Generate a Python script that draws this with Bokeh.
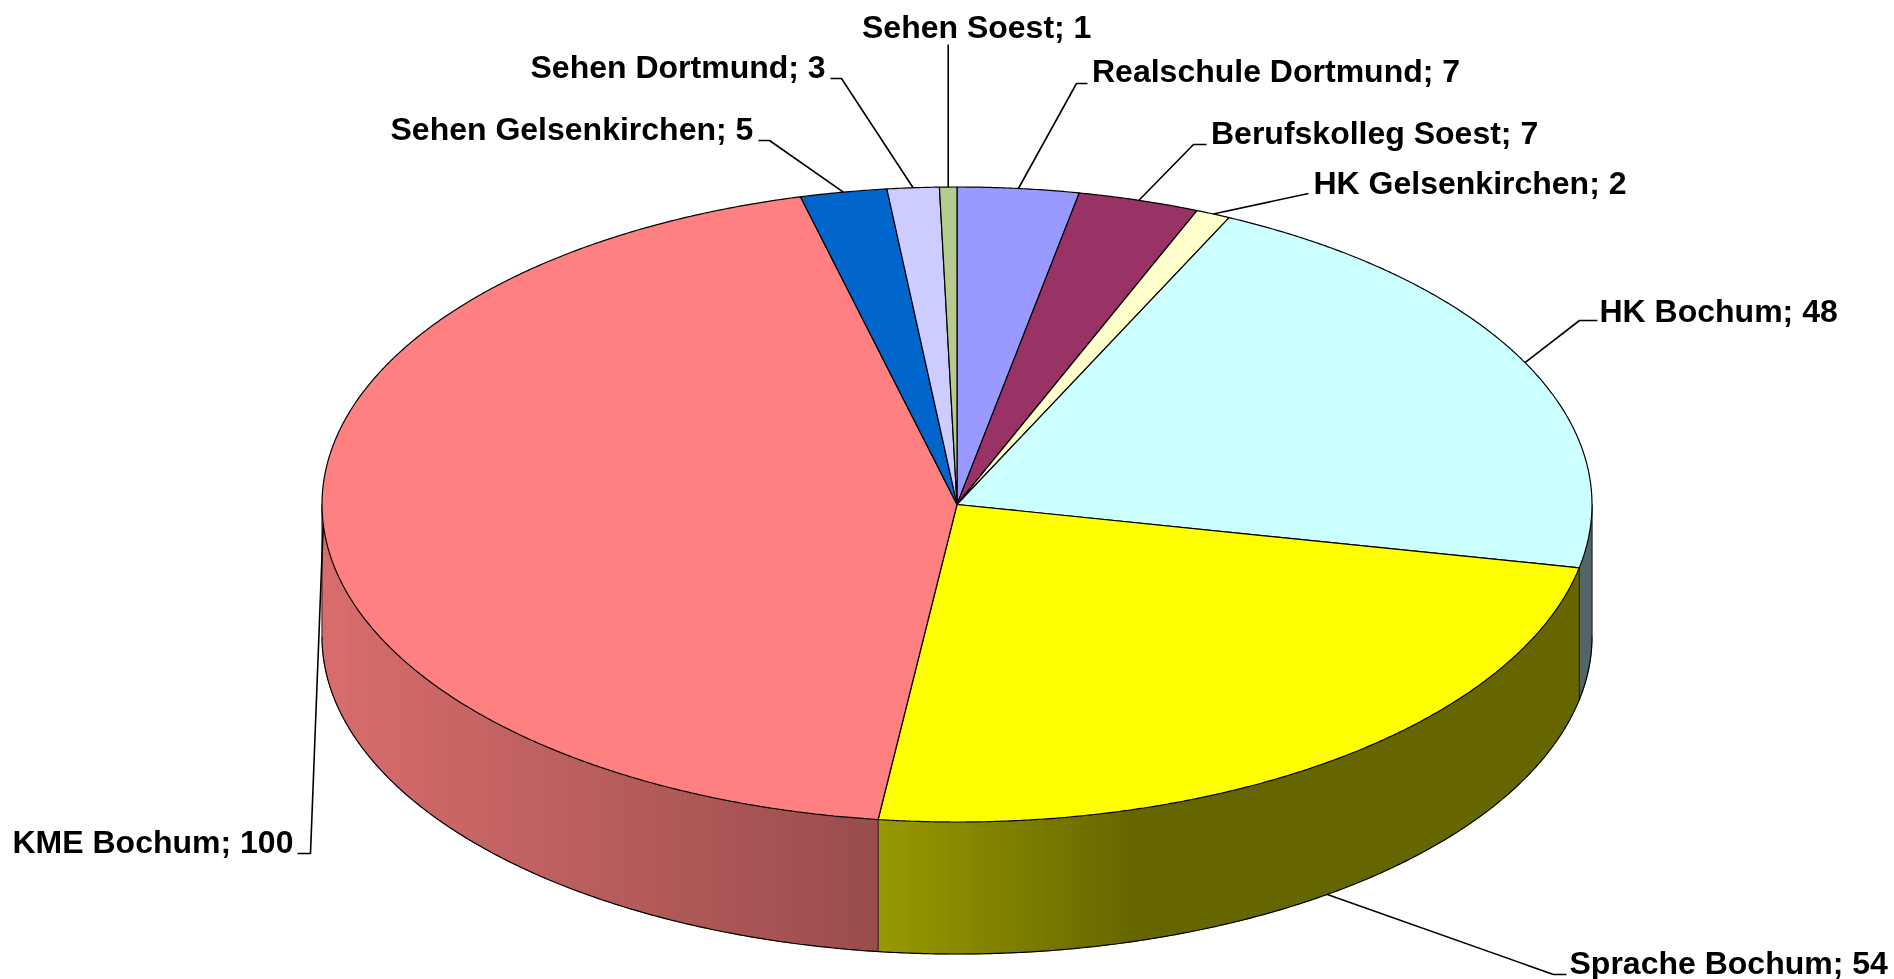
import numpy as np
from bokeh.plotting import figure
from bokeh.models import Range1d, ColumnDataSource
from bokeh.core.properties import value
from bokeh.embed import file_html
from bokeh.resources import INLINE

# clockwise from 12 o'clock
names = ["Realschule Dortmund", "Berufskolleg Soest", "HK Gelsenkirchen", "HK Bochum",
         "Sprache Bochum", "KME Bochum", "Sehen Gelsenkirchen", "Sehen Dortmund", "Sehen Soest"]
values = [7, 7, 2, 48, 54, 100, 5, 3, 1]
colors = ["#9999FF", "#993366", "#FFFFCC", "#CCFFFF", "#FFFF00", "#FF8080", "#0066CC", "#CCCCFF", "#B6CC8E"]

# label layout: text left, baseline, elbow point, elbow end (page pixels)
label_x = [1091.5, 1210.5, 1313, 1599, 1569, 12, 390, 530, 861.5]
label_y = [81.5, 143, 193, 321, 973, 852, 139, 77, 37.5]
elbow_x = [1076, 1193, 1308, 1579, 1553, 310, 769, 841, None]
elbow_y = [83, 144, 193, 320, 974, 853, 140, 78, None]
stub_x = [1087, 1206, 1308, 1597, 1566, 297, 758, 830, None]

W, H = 1894, 979
CX, CY, RX, RY, DEPTH = 956.5, 504.0, 635.0, 317.5, 132.0
LABEL_SHIFT = -11

vals = np.array(values, dtype=float)
edges = np.concatenate([[0], np.cumsum(vals)]) / vals.sum() * 2 * np.pi


def px(t):
    return CX + RX * np.sin(t)


def py(t):
    return CY - RY * np.cos(t)


def shade_at(x):
    return np.interp(x, [322, 877, 1133], [0.85, 0.60, 0.40])


def rgb(hexc, f):
    r, g, b = (int(hexc[i:i + 2], 16) for i in (1, 3, 5))
    return "#%02x%02x%02x" % (round(r * f), round(g * f), round(b * f))


p = figure(width=W, height=H, x_range=Range1d(0, W), y_range=Range1d(H, 0),
           output_backend="svg", toolbar_location=None, min_border=0, outline_line_color=None)
p.axis.visible = False
p.grid.visible = False
p.styles = {"position": "fixed", "left": "0px", "top": "0px"}

# side wall, front half only, in shaded strips (runs of equal colour are merged)
sx, sy, sc = [], [], []
for i in range(len(vals)):
    a, b = max(edges[i], np.pi / 2), min(edges[i + 1], 3 * np.pi / 2)
    if b <= a:
        continue
    ts = np.linspace(a, b, max(2, int((b - a) / 0.006)))
    run_start = ts[0]
    run_col = None
    for t0, t1 in zip(ts[:-1], ts[1:]):
        col = rgb(colors[i], float(shade_at((px(t0) + px(t1)) / 2)))
        if run_col is not None and col != run_col:
            seg = np.linspace(run_start, t0, 12)
            sx.append(np.concatenate([px(seg), px(seg)[::-1]]))
            sy.append(np.concatenate([py(seg), (py(seg) + DEPTH)[::-1]]))
            sc.append(run_col)
            run_start = t0
        run_col = col
    seg = np.linspace(run_start, ts[-1], 40)
    sx.append(np.concatenate([px(seg), px(seg)[::-1]]))
    sy.append(np.concatenate([py(seg), (py(seg) + DEPTH)[::-1]]))
    sc.append(run_col)
p.patches(sx, sy, fill_color=sc, line_color=sc, line_width=1)

# wall outline and the vertical seams
tb = np.linspace(np.pi / 2, 3 * np.pi / 2, 500)
p.line(px(tb), py(tb) + DEPTH, line_color="#000000", line_width=1.2)
for t in list(edges[1:-1][(edges[1:-1] > np.pi / 2) & (edges[1:-1] < 3 * np.pi / 2)]) + [np.pi / 2, 3 * np.pi / 2]:
    p.line([px(t), px(t)], [py(t), py(t) + DEPTH], line_color="#000000", line_width=0.7)

# top face
fx, fy = [], []
for i in range(len(vals)):
    t = np.linspace(edges[i], edges[i + 1], max(3, int((edges[i + 1] - edges[i]) / 0.005)))
    fx.append(np.concatenate([[CX], px(t)]))
    fy.append(np.concatenate([[CY], py(t)]))
p.patches(fx, fy, fill_color=colors, line_color="#000000", line_width=1.2)

# leader lines from slice mid angle
for i in range(len(vals)):
    m = (edges[i] + edges[i + 1]) / 2
    ax, ay = px(m), py(m)
    if names[i].startswith("Sprache"):
        ay += DEPTH
    if elbow_x[i] is None:
        lx, ly = [ax, ax], [ay, label_y[i] + 6.5]
    else:
        lx, ly = [ax, elbow_x[i], stub_x[i]], [ay, elbow_y[i], elbow_y[i]]
    p.line(lx, ly, line_color="#000000", line_width=1.6)

texts = ["%s; %d" % (n, v) for n, v in zip(names, values)]
src = ColumnDataSource(dict(x=label_x, y=label_y, t=texts))
p.text("x", "y", text="t", source=src, text_font=value("Liberation Sans"), text_font_style="bold",
       text_font_size=value("32px"), text_color="#000000", text_align="left", text_baseline="alphabetic",
       y_offset=LABEL_SHIFT)

open("out.html", "w").write(file_html(p, INLINE))
